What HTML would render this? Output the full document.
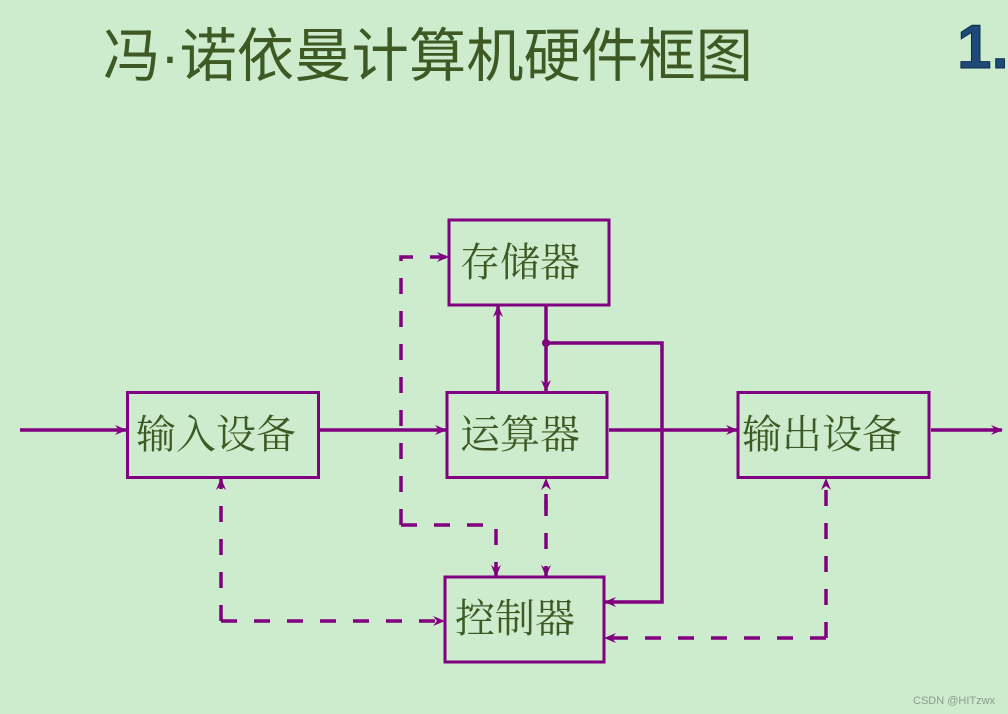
<!DOCTYPE html>
<html><head><meta charset="utf-8"><style>
html,body{margin:0;padding:0;background:#cdeccd;}
svg{display:block;}
.t{font-family:"Liberation Serif","Noto Serif CJK SC",serif;font-size:40px;fill:#3e5a24;}
</style></head><body>
<svg width="1008" height="714" viewBox="0 0 1008 714" xmlns="http://www.w3.org/2000/svg">
<defs>
<marker id="a" viewBox="0 0 12 10" refX="11" refY="5" markerWidth="12" markerHeight="10" markerUnits="userSpaceOnUse" orient="auto">
<path d="M0,0 L12,5 L0,10 L4,5 Z" fill="#800080"/>
</marker>
</defs>
<rect width="1008" height="714" fill="#cdeccd"/>
<text x="103" y="76" font-family="'Liberation Sans','Noto Sans CJK SC',sans-serif" font-size="58" fill="#3e5a24" textLength="650" lengthAdjust="spacingAndGlyphs">冯·诺依曼计算机硬件框图</text>
<text x="957" y="68" font-family="'Liberation Sans',sans-serif" font-weight="bold" font-size="62" fill="#1e4a7a" stroke="#0e2a4a" stroke-width="1">1.</text>
<g fill="none" stroke="#800080" stroke-width="3">
<rect x="449" y="220" width="160" height="85"/>
<rect x="127.5" y="392.5" width="191" height="85"/>
<rect x="447" y="392.5" width="160" height="85"/>
<rect x="738" y="392.5" width="191" height="85"/>
<rect x="445" y="577" width="159" height="85"/>
</g>
<g fill="none" stroke="#800080" stroke-width="3.5" marker-end="url(#a)">
<path d="M20,430 H126"/>
<path d="M320,430 H446"/>
<path d="M609,430 H737"/>
<path d="M931,430 H1002"/>
<path d="M498,391 V306"/>
<path d="M546,306 V391"/>
<path d="M546,343 H662 V602 H605"/>
</g>
<circle cx="546" cy="343" r="4" fill="#800080"/>
<g fill="none" stroke="#800080" stroke-width="3.5" stroke-dasharray="16 17" marker-end="url(#a)">
<path d="M401,525 V257 H448"/>
<path d="M401,525 H496 V576"/>
<path d="M546,500 V576"/>
<path d="M546,510 V479"/>
<path d="M221,621 V479"/>
<path d="M221,621 H444"/>
<path d="M826,638 V479"/>
<path d="M826,638 H605"/>
</g>
<text class="t" x="460" y="276">存储器</text>
<text class="t" x="136" y="448">输入设备</text>
<text class="t" x="460" y="448">运算器</text>
<text class="t" x="742" y="448">输出设备</text>
<text class="t" x="455" y="632">控制器</text>
<text x="913" y="704" font-family="'Liberation Sans',sans-serif" font-size="11" fill="#8a9a8a">CSDN @HITzwx</text>
</svg>
</body></html>
